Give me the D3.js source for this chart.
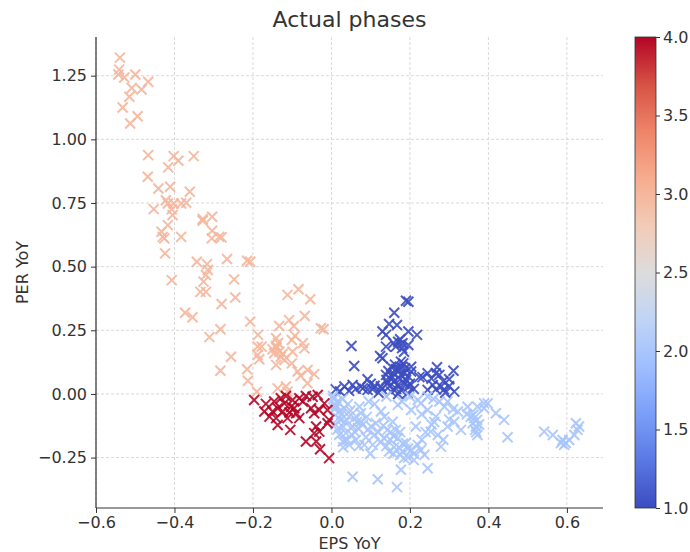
<!DOCTYPE html>
<html lang="en">
<head>
<meta charset="UTF-8">
<title>Actual phases</title>
<script src="https://d3js.org/d3.v7.min.js"></script>
<style>
    body { margin: 0; background: #fff; }
    svg text { font-family: 'DejaVu Sans', sans-serif; fill: #333; }
</style>
</head>
<body>
<div id="chart"></div>
<script>
// [EPS YoY, PER YoY] per phase
const phase1 = [
    [0.190, 0.366], [0.196, 0.362], [0.160, 0.319], [0.147, 0.275], [0.167, 0.271],
    [0.130, 0.245], [0.139, 0.232], [0.196, 0.245], [0.218, 0.232], [0.170, 0.205],
    [0.181, 0.199], [0.164, 0.186], [0.196, 0.192], [0.185, 0.166], [0.139, 0.186],
    [0.051, 0.188], [0.058, 0.110], [0.124, 0.149], [0.130, 0.140], [0.152, 0.107],
    [0.164, 0.097], [0.139, 0.075], [0.156, 0.066], [0.177, 0.075], [0.190, 0.055],
    [0.143, 0.042], [0.169, 0.035], [0.198, 0.029], [0.126, 0.029], [0.092, 0.058],
    [0.075, 0.029], [0.054, 0.035], [0.033, 0.029], [0.011, 0.018], [0.105, 0.018],
    [0.152, 0.009], [0.177, 0.016], [0.224, 0.066], [0.232, 0.066], [0.269, 0.105],
    [0.311, 0.091], [0.266, 0.081], [0.245, 0.081], [0.300, 0.058], [0.258, 0.035],
    [0.266, 0.018], [0.287, 0.018], [0.313, 0.009], [0.245, 0.016], [0.279, 0.029],
    [0.203, 0.088], [0.177, 0.127], [0.203, 0.107], [0.092, 0.016], [0.194, 0.003],
    [0.160, 0.050], [0.172, 0.092], [0.183, 0.120], [0.150, 0.060], [0.188, 0.100],
    [0.200, 0.040], [0.128, 0.020], [0.110, 0.032], [0.080, 0.022], [0.170, 0.000],
    [0.120, 0.005], [0.022, 0.010], [0.062, 0.020], [0.285, 0.050], [0.300, 0.030],
    [0.145, 0.090], [0.158, 0.080], [0.175, 0.058], [0.185, 0.082], [0.162, 0.115],
    [0.148, 0.030], [0.165, 0.020], [0.186, 0.040], [0.140, 0.055], [0.178, 0.105],
    [0.195, 0.070], [0.175, 0.215], [0.158, 0.200], [0.180, 0.180], [0.045, 0.012],
    [0.255, 0.060], [0.275, 0.075], [0.290, 0.005], [0.100, 0.040], [0.210, 0.020]
];
const phase2 = [
    [0.011, -0.043], [0.020, -0.069], [0.033, -0.056], [0.045, -0.089], [0.024, -0.102],
    [0.054, -0.128], [0.037, -0.154], [0.029, -0.187], [0.071, -0.050], [0.075, -0.109],
    [0.092, -0.141], [0.101, -0.128], [0.084, -0.200], [0.062, -0.181], [0.045, -0.200],
    [0.099, -0.235], [0.169, -0.043], [0.156, -0.109], [0.143, -0.141], [0.164, -0.141],
    [0.134, -0.174], [0.169, -0.174], [0.190, -0.193], [0.181, -0.226], [0.203, -0.220],
    [0.147, -0.226], [0.215, -0.128], [0.228, -0.037], [0.245, -0.063], [0.266, -0.089],
    [0.253, -0.148], [0.271, -0.161], [0.279, -0.207], [0.237, -0.239], [0.245, -0.292],
    [0.177, -0.298], [0.054, -0.325], [0.118, -0.335], [0.167, -0.366], [0.296, -0.030],
    [0.322, -0.069], [0.347, -0.050], [0.372, -0.050], [0.389, -0.037], [0.364, -0.095],
    [0.368, -0.128], [0.372, -0.161], [0.419, -0.076], [0.313, -0.109], [0.330, -0.141],
    [0.296, -0.128], [0.203, -0.063], [0.220, -0.024], [0.126, -0.069], [0.113, -0.115],
    [0.185, -0.252], [0.228, -0.220], [0.075, -0.076], [0.398, -0.037], [0.389, -0.056],
    [0.440, -0.102], [0.449, -0.170], [0.542, -0.148], [0.564, -0.161], [0.589, -0.181],
    [0.597, -0.193], [0.606, -0.181], [0.619, -0.161], [0.627, -0.141], [0.623, -0.115],
    [0.631, -0.128], [0.593, -0.200], [0.585, -0.193], [0.360, -0.115], [0.366, -0.141],
    [0.371, -0.102], [0.362, -0.082], [0.005, -0.020], [0.015, -0.030], [0.025, -0.080],
    [0.010, -0.120], [0.030, -0.130], [0.020, -0.160], [0.040, -0.180], [0.008, -0.060],
    [0.018, -0.095], [0.042, -0.040], [0.060, -0.150], [0.088, -0.170], [0.110, -0.160],
    [0.125, -0.190], [0.150, -0.180], [0.160, -0.210], [0.175, -0.240], [0.195, -0.250],
    [0.210, -0.260], [0.230, -0.180], [0.260, -0.020], [0.275, -0.030], [0.245, -0.010],
    [0.200, -0.010], [0.180, -0.030], [0.140, -0.010], [0.110, -0.040], [0.090, -0.090],
    [0.065, -0.110], [0.135, -0.090], [0.255, -0.120], [0.310, -0.060], [0.345, -0.080],
    [0.004, -0.008], [0.012, -0.050], [0.028, -0.020], [0.035, -0.110], [0.048, -0.065],
    [0.015, -0.140], [0.052, -0.160], [0.068, -0.135], [0.080, -0.120], [0.058, -0.095],
    [0.030, -0.210], [0.070, -0.205], [0.105, -0.200], [0.120, -0.150], [0.132, -0.125],
    [0.150, -0.150], [0.158, -0.165], [0.175, -0.150], [0.182, -0.195], [0.172, -0.210],
    [0.195, -0.215], [0.210, -0.235], [0.220, -0.200], [0.158, -0.235], [0.140, -0.205],
    [0.240, -0.150], [0.262, -0.110], [0.288, -0.050], [0.230, -0.080], [0.095, -0.030],
    [0.285, -0.180], [0.300, -0.100], [0.355, -0.090], [0.369, -0.150], [0.376, -0.120]
];
const phase3 = [
    [-0.539, 1.321], [-0.541, 1.274], [-0.543, 1.255], [-0.528, 1.243], [-0.500, 1.255],
    [-0.509, 1.202], [-0.484, 1.196], [-0.467, 1.226], [-0.515, 1.167], [-0.532, 1.125],
    [-0.494, 1.091], [-0.513, 1.062], [-0.467, 0.938], [-0.402, 0.934], [-0.390, 0.916],
    [-0.351, 0.934], [-0.416, 0.890], [-0.468, 0.853], [-0.441, 0.807], [-0.411, 0.814],
    [-0.361, 0.794], [-0.422, 0.761], [-0.417, 0.748], [-0.402, 0.748], [-0.383, 0.748],
    [-0.370, 0.751], [-0.453, 0.726], [-0.407, 0.725], [-0.405, 0.703], [-0.328, 0.687],
    [-0.304, 0.696], [-0.417, 0.663], [-0.433, 0.637], [-0.430, 0.617], [-0.383, 0.617],
    [-0.304, 0.641], [-0.286, 0.617], [-0.426, 0.611], [-0.305, 0.611], [-0.280, 0.615],
    [-0.328, 0.680], [-0.424, 0.552], [-0.343, 0.519], [-0.317, 0.510], [-0.315, 0.487],
    [-0.320, 0.467], [-0.266, 0.530], [-0.215, 0.523], [-0.207, 0.519], [-0.407, 0.447],
    [-0.326, 0.441], [-0.248, 0.450], [-0.334, 0.401], [-0.320, 0.401], [-0.245, 0.379],
    [-0.280, 0.353], [-0.373, 0.319], [-0.354, 0.301], [-0.283, 0.254], [-0.311, 0.223],
    [-0.112, 0.389], [-0.084, 0.411], [-0.054, 0.372], [-0.068, 0.306], [-0.207, 0.284],
    [-0.133, 0.267], [-0.108, 0.290], [-0.096, 0.267], [-0.020, 0.254], [-0.027, 0.258],
    [-0.187, 0.232], [-0.093, 0.228], [-0.141, 0.219], [-0.256, 0.146], [-0.283, 0.091],
    [-0.188, 0.186], [-0.178, 0.186], [-0.141, 0.188], [-0.133, 0.166], [-0.146, 0.160],
    [-0.129, 0.146], [-0.101, 0.212], [-0.099, 0.166], [-0.073, 0.199], [-0.069, 0.179],
    [-0.188, 0.153], [-0.184, 0.136], [-0.141, 0.114], [-0.120, 0.133], [-0.101, 0.120],
    [-0.086, 0.088], [-0.079, 0.071], [-0.061, 0.094], [-0.044, 0.078], [-0.215, 0.097],
    [-0.213, 0.052], [-0.116, 0.029], [-0.112, 0.009], [-0.190, 0.009], [-0.061, 0.042],
    [-0.137, 0.022], [-0.140, 0.180], [-0.136, 0.200], [-0.150, 0.175], [-0.124, 0.158]
];
const phase4 = [
    [-0.197, -0.024], [-0.167, -0.039], [-0.146, -0.030], [-0.129, -0.017], [-0.116, -0.008],
    [-0.120, -0.037], [-0.137, -0.056], [-0.150, -0.069], [-0.124, -0.069], [-0.103, -0.050],
    [-0.090, -0.076], [-0.082, -0.095], [-0.112, -0.095], [-0.141, -0.095], [-0.137, -0.122],
    [-0.105, -0.141], [-0.073, -0.030], [-0.065, -0.008], [-0.048, -0.011], [-0.035, -0.004],
    [-0.052, -0.056], [-0.031, -0.063], [-0.044, -0.076], [-0.006, -0.102], [-0.010, -0.115],
    [-0.039, -0.128], [-0.044, -0.154], [-0.031, -0.148], [-0.065, -0.187], [-0.039, -0.187],
    [-0.029, -0.217], [-0.006, -0.252], [-0.082, -0.017], [-0.099, -0.024], [-0.095, -0.056],
    [-0.171, -0.069], [-0.158, -0.089], [-0.018, -0.037], [-0.010, -0.063], [-0.107, -0.073]
];
const phaseValues = [1, 2, 3, 4];
const xTicks = [-0.6, -0.4, -0.2, 0.0, 0.2, 0.4, 0.6];
const yTicks = [-0.25, 0.00, 0.25, 0.50, 0.75, 1.00, 1.25];
const cbarTicks = [1.0, 1.5, 2.0, 2.5, 3.0, 3.5, 4.0];
// matplotlib coolwarm, 11 stops
const coolwarm = ["#3b4cc0", "#5a78e4", "#7b9ff9", "#9ebeff", "#c0d4f5", "#dddcdc",
                  "#f2cbb7", "#f7ac8e", "#ee8468", "#d65244", "#b40426"];

const width = 690, height = 552;
const margin = { top: 37, right: 87, bottom: 44, left: 96 };
const plotW = width - margin.left - margin.right;
const plotH = height - margin.top - margin.bottom;

const svg = d3.select("#chart").append("svg")
    .attr("width", width)
    .attr("height", height);

const x = d3.scaleLinear().domain([-0.6, 0.692]).range([margin.left, margin.left + plotW]);
const y = d3.scaleLinear().domain([-0.448, 1.402]).range([margin.top + plotH, margin.top]);

const color = d3.scaleLinear()
    .domain(d3.range(11).map(i => 1 + 3 * i / 10))
    .range(coolwarm)
    .interpolate(d3.interpolateRgb);

// grid
const grid = svg.append("g").attr("stroke", "#cfcfcf").attr("stroke-dasharray", "3,2").attr("stroke-width", 0.8);
grid.selectAll(".gx").data(xTicks).enter().append("line")
    .attr("x1", d => x(d)).attr("x2", d => x(d))
    .attr("y1", margin.top).attr("y2", margin.top + plotH);
grid.selectAll(".gy").data(yTicks).enter().append("line")
    .attr("x1", margin.left).attr("x2", margin.left + plotW)
    .attr("y1", d => y(d)).attr("y2", d => y(d));

// points
const series = [phase1, phase2, phase3, phase4];
const sz = 5;
series.forEach((pts, i) => {
    const c = color(phaseValues[i]);
    svg.append("g").selectAll("path").data(pts).enter().append("path")
        .attr("transform", d => `translate(${x(d[0])},${y(d[1])})`)
        .attr("d", `M${-sz},${-sz}L${sz},${sz}M${-sz},${sz}L${sz},${-sz}`)
        .attr("stroke", c)
        .attr("stroke-width", 2)
        .attr("stroke-opacity", 0.9)
        .attr("fill", "none");
});

// axes
const fmtMinus = f => d => d3.format(f)(d).replace("-", "\u2212");
const xAxis = svg.append("g")
    .attr("transform", `translate(0,${margin.top + plotH})`)
    .call(d3.axisBottom(x).tickValues(xTicks).tickSize(5).tickPadding(4).tickFormat(fmtMinus(".1f")));
const yAxis = svg.append("g")
    .attr("transform", `translate(${margin.left},0)`)
    .call(d3.axisLeft(y).tickValues(yTicks).tickSize(5).tickPadding(4).tickFormat(fmtMinus(".2f")));
[xAxis, yAxis].forEach(a => {
    a.select(".domain").attr("stroke", "#333").attr("stroke-width", 1.2).attr("d",
        a === xAxis ? `M${margin.left},0H${margin.left + plotW}` : `M0,${margin.top}V${margin.top + plotH}`);
    a.selectAll(".tick line").attr("stroke", "#333");
    a.selectAll("text").attr("font-size", 16).style("fill", "#333");
});

// labels
svg.append("text")
    .attr("x", margin.left + plotW / 2).attr("y", 27)
    .attr("text-anchor", "middle").attr("font-size", 22)
    .text("Actual phases");
svg.append("text")
    .attr("x", margin.left + plotW / 2).attr("y", 549)
    .attr("text-anchor", "middle").attr("font-size", 16)
    .text("EPS YoY");
svg.append("text")
    .attr("transform", `translate(28,${margin.top + plotH / 2}) rotate(-90)`)
    .attr("text-anchor", "middle").attr("font-size", 16)
    .text("PER YoY");

// colorbar
const cbX = 635, cbW = 21;
const cy = d3.scaleLinear().domain([1, 4]).range([margin.top + plotH, margin.top]);
const grad = svg.append("defs").append("linearGradient")
    .attr("id", "cw").attr("x1", 0).attr("y1", 1).attr("x2", 0).attr("y2", 0);
grad.selectAll("stop").data(coolwarm).enter().append("stop")
    .attr("offset", (d, i) => i / 10)
    .attr("stop-color", d => d);
svg.append("rect")
    .attr("x", cbX).attr("y", margin.top)
    .attr("width", cbW).attr("height", plotH)
    .attr("fill", "url(#cw)")
    .attr("stroke", "#333").attr("stroke-width", 0.8);
const cAxis = svg.append("g")
    .attr("transform", `translate(${cbX + cbW},0)`)
    .call(d3.axisRight(cy).tickValues(cbarTicks).tickSize(4).tickPadding(3).tickFormat(d3.format(".1f")));
cAxis.select(".domain").remove();
cAxis.selectAll(".tick line").attr("stroke", "#333");
cAxis.selectAll("text").attr("font-size", 16).style("fill", "#333");
</script>
</body>
</html>
